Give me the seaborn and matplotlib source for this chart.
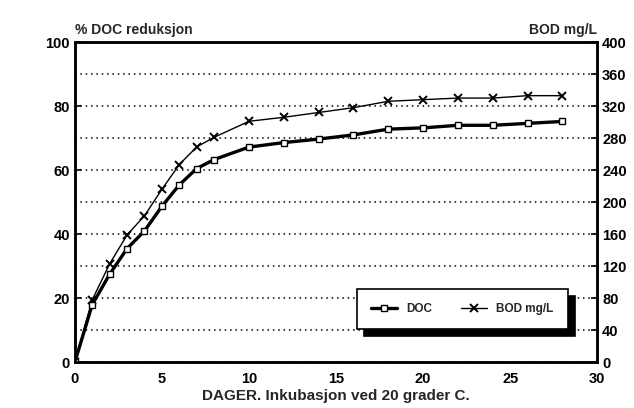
import matplotlib
matplotlib.use("Agg")
import matplotlib.pyplot as plt
import seaborn as sns
import pandas as pd

days = [0, 1, 2, 3, 4, 5, 6, 7, 8, 10, 12, 14, 16, 18, 20, 22, 24, 26, 28]
doc_reduction = [0, 18, 27.5, 35.5, 41, 48.7, 55.4, 60.5, 63.3, 67.2, 68.6, 69.7,
                 71, 72.8, 73.2, 74, 74, 74.6, 75.2]
bod_mgl = [0, 78, 123, 159, 183, 216, 247, 269, 281, 301, 306, 312, 318, 326,
           328, 330, 330, 333, 333]

x_ticks = [0, 5, 10, 15, 20, 25, 30]
left_ticks = [0, 20, 40, 60, 80, 100]
right_ticks = [0, 40, 80, 120, 160, 200, 240, 280, 320, 360, 400]

sns.set_style("white")
plt.rcParams["font.family"] = ["Liberation Sans", "DejaVu Sans"]
plt.rcParams["font.weight"] = "bold"

frame = pd.DataFrame({"day": days, "doc": doc_reduction, "bod": bod_mgl})

fig = plt.figure(figsize=(6.34, 4.08), dpi=100)
ax = fig.add_axes([0.118, 0.112, 0.824, 0.785])
ax2 = ax.twinx()

sns.lineplot(data=frame, x="day", y="doc", ax=ax, color="black", lw=2.4,
             marker="s", markersize=5, markerfacecolor="white",
             markeredgecolor="black", markeredgewidth=1.0, label="DOC", legend=False)
sns.lineplot(data=frame, x="day", y="bod", ax=ax2, color="black", lw=1.0,
             marker="x", markersize=6, markeredgecolor="black", markeredgewidth=1.4,
             label="BOD mg/L", legend=False)

ax.set_xlim(0, 30)
ax.set_ylim(0, 100)
ax2.set_ylim(0, 400)
ax.set_xticks(x_ticks)
ax.set_yticks(left_ticks)
ax2.set_yticks(right_ticks)

ax2.yaxis.grid(True, linestyle=(0, (1, 2.5)), color="black", lw=1.1)
ax.grid(False)
ax.set_zorder(ax2.get_zorder() + 1)
ax.patch.set_visible(False)

for a in (ax, ax2):
    for s in a.spines.values():
        s.set_color("black")
        s.set_linewidth(1.8)
    a.tick_params(direction="in", length=4, width=1.2, labelsize=10.5, colors="black")
    for lbl in a.get_xticklabels() + a.get_yticklabels():
        lbl.set_fontweight("bold")
ax.tick_params(axis="x", pad=7)

ax.set_xlabel("DAGER. Inkubasjon ved 20 grader C.", fontsize=11, fontweight="bold", labelpad=2)
ax.set_ylabel("")
ax2.set_ylabel("")
ax.text(0.0, 1.015, "% DOC reduksjon", transform=ax.transAxes, fontsize=10,
        fontweight="bold", ha="left", va="bottom")
ax.text(1.0, 1.015, "BOD mg/L", transform=ax.transAxes, fontsize=10,
        fontweight="bold", ha="right", va="bottom")

h1, l1 = ax.get_legend_handles_labels()
h2, l2 = ax2.get_legend_handles_labels()
leg = ax.legend(h1 + h2, l1 + l2, ncol=2, loc="lower right", bbox_to_anchor=(0.955, 0.085),
                frameon=True, fancybox=False, shadow={"color": "black", "ox": 5, "oy": -5, "alpha": 1},
                edgecolor="black", handlelength=2.2, columnspacing=2.4,
                borderpad=1.2, prop={"weight": "bold", "size": 8.5})
leg.get_frame().set_linewidth(1.2)

fig.savefig("out.png", dpi=100)
